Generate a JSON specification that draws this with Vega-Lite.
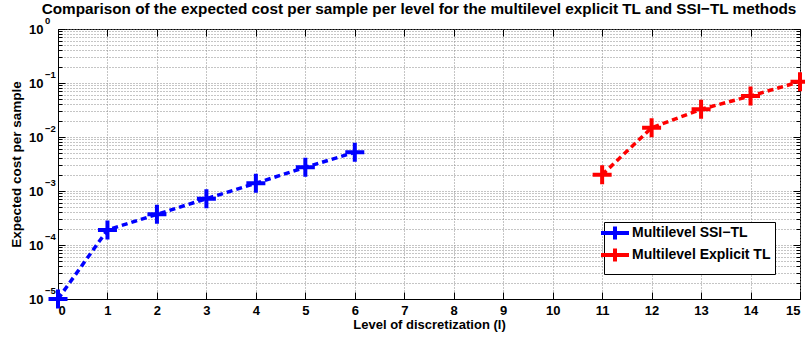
{
  "$schema": "https://vega.github.io/schema/vega-lite/v6.json",
  "autosize": "none",
  "width": 742,
  "height": 270,
  "padding": {"left": 58, "top": 29, "right": 5, "bottom": 40},
  "background": "white",
  "config": {
    "font": "Liberation Sans",
    "view": {"stroke": "black", "strokeWidth": 1},
    "axis": {
      "labelFont": "Liberation Sans", "labelFontWeight": "bold", "labelFontSize": 13, "labelColor": "black",
      "titleFont": "Liberation Sans", "titleFontWeight": "bold", "titleFontSize": 13, "titleColor": "black",
      "domainColor": "black", "tickColor": "black",
      "gridColor": "#8a8a8a", "gridDash": [1, 2], "gridOpacity": 1, "gridWidth": 1
    }
  },
  "title": {
    "text": "Comparison of the expected cost per sample per level for the multilevel  explicit TL and SSI\u2212TL methods",
    "font": "Liberation Sans", "fontWeight": "bold", "fontSize": 15.3, "color": "black",
    "anchor": "middle", "offset": -1, "dx": -10
  },
  "datasets": {
    "main": [
      {"level": 0, "cost": 0.00001, "method": "Multilevel SSI\u2212TL"},
      {"level": 1, "cost": 0.00019, "method": "Multilevel SSI\u2212TL"},
      {"level": 2, "cost": 0.00037, "method": "Multilevel SSI\u2212TL"},
      {"level": 3, "cost": 0.00072, "method": "Multilevel SSI\u2212TL"},
      {"level": 4, "cost": 0.00139, "method": "Multilevel SSI\u2212TL"},
      {"level": 5, "cost": 0.00275, "method": "Multilevel SSI\u2212TL"},
      {"level": 6, "cost": 0.0052, "method": "Multilevel SSI\u2212TL"},
      {"level": 11, "cost": 0.002, "method": "Multilevel Explicit TL"},
      {"level": 12, "cost": 0.0148, "method": "Multilevel Explicit TL"},
      {"level": 13, "cost": 0.0326, "method": "Multilevel Explicit TL"},
      {"level": 14, "cost": 0.0575, "method": "Multilevel Explicit TL"},
      {"level": 15, "cost": 0.106, "method": "Multilevel Explicit TL"}
    ],
    "decades": [
      {"v": 0.00001, "e": "\u22125"},
      {"v": 0.0001, "e": "\u22124"},
      {"v": 0.001, "e": "\u22123"},
      {"v": 0.01, "e": "\u22122"},
      {"v": 0.1, "e": "\u22121"},
      {"v": 1, "e": "0"}
    ]
  },
  "data": {"name": "main"},
  "resolve": {"axis": {"x": "independent", "y": "independent"}},
  "layer": [
    {
      "mark": {"type": "line", "strokeWidth": 3.5, "strokeDash": [6, 4], "clip": true},
      "encoding": {
        "x": {"field": "level", "type": "quantitative",
          "scale": {"domain": [0, 15], "nice": false},
          "axis": {"title": "Level of discretization (l)", "values": [0,1,2,3,4,5,6,7,8,9,10,11,12,13,14,15], "format": "d", "tickSize": -7, "labelPadding": 12, "titlePadding": 1}},
        "y": {"field": "cost", "type": "quantitative",
          "scale": {"type": "log", "domain": [0.00001, 1], "nice": false},
          "axis": {"title": "Expected cost per sample", "titlePadding": 5, "titleFontSize": 13.5,
            "values": [0.00001, 0.0001, 0.001, 0.01, 0.1, 1],
            "labelExpr": "'10'", "tickSize": -7, "labelPadding": 22}},
        "color": {"field": "method", "type": "nominal",
          "scale": {"domain": ["Multilevel SSI\u2212TL", "Multilevel Explicit TL"], "range": ["#0000ff", "#ff0000"]},
          "legend": {
            "title": null, "orient": "none", "legendX": 546, "legendY": 193,
            "strokeColor": "black", "fillColor": "white", "padding": 4,
            "labelFont": "Liberation Sans", "labelFontWeight": "bold", "labelFontSize": 14, "labelColor": "black",
            "symbolType": "M-2.8,0L2.8,0M0,-1.3L0,1.3", "symbolSize": 100, "symbolStrokeWidth": 4,
            "symbolDash": [], "rowPadding": -11, "labelOffset": 10, "labelLimit": 300
          }}
      }
    },
    {
      "mark": {"type": "point", "shape": "M-1,0L1,0M0,-1L0,1", "size": 361, "strokeWidth": 4, "filled": false, "opacity": 1, "clip": false},
      "encoding": {
        "x": {"field": "level", "type": "quantitative", "axis": null},
        "y": {"field": "cost", "type": "quantitative", "axis": null},
        "color": {"field": "method", "type": "nominal"}
      }
    },
    {
      "mark": {"type": "point", "opacity": 0},
      "encoding": {
        "x": {"field": "level", "type": "quantitative",
          "axis": {"orient": "top", "title": null, "labels": false, "grid": false, "domain": false, "tickSize": -7, "values": [0,1,2,3,4,5,6,7,8,9,10,11,12,13,14,15]}},
        "y": {"field": "cost", "type": "quantitative",
          "axis": {"orient": "right", "title": null, "labels": false, "grid": false, "domain": false, "tickSize": -7,
            "values": [0.00001, 0.0001, 0.001, 0.01, 0.1, 1]}}
      }
    },
    {
      "mark": {"type": "point", "opacity": 0},
      "encoding": {
        "x": {"field": "level", "type": "quantitative", "axis": null},
        "y": {"field": "cost", "type": "quantitative",
          "axis": {"orient": "left", "title": null, "labels": false, "grid": true, "domain": false, "tickSize": -4,
            "values": [0.00002,0.00003,0.00004,0.00005,0.00006,0.00007,0.00008,0.00009,
                       0.0002,0.0003,0.0004,0.0005,0.0006,0.0007,0.0008,0.0009,
                       0.002,0.003,0.004,0.005,0.006,0.007,0.008,0.009,
                       0.02,0.03,0.04,0.05,0.06,0.07,0.08,0.09,
                       0.2,0.3,0.4,0.5,0.6,0.7,0.8,0.9]}}
      }
    },
    {
      "mark": {"type": "point", "opacity": 0},
      "encoding": {
        "x": {"field": "level", "type": "quantitative", "axis": null},
        "y": {"field": "cost", "type": "quantitative",
          "axis": {"orient": "right", "title": null, "labels": false, "grid": false, "domain": false, "tickSize": -4,
            "values": [0.00002,0.00003,0.00004,0.00005,0.00006,0.00007,0.00008,0.00009,
                       0.0002,0.0003,0.0004,0.0005,0.0006,0.0007,0.0008,0.0009,
                       0.002,0.003,0.004,0.005,0.006,0.007,0.008,0.009,
                       0.02,0.03,0.04,0.05,0.06,0.07,0.08,0.09,
                       0.2,0.3,0.4,0.5,0.6,0.7,0.8,0.9]}}
      }
    },
    {
      "data": {"name": "decades"},
      "mark": {"type": "text", "align": "left", "baseline": "middle", "dx": -13, "dy": -8, "fontSize": 9.5, "fontWeight": "bold", "font": "Liberation Sans", "color": "black", "clip": false},
      "encoding": {
        "x": {"datum": 0, "type": "quantitative", "axis": null},
        "y": {"field": "v", "type": "quantitative", "axis": null},
        "text": {"field": "e"}
      }
    }
  ]
}
